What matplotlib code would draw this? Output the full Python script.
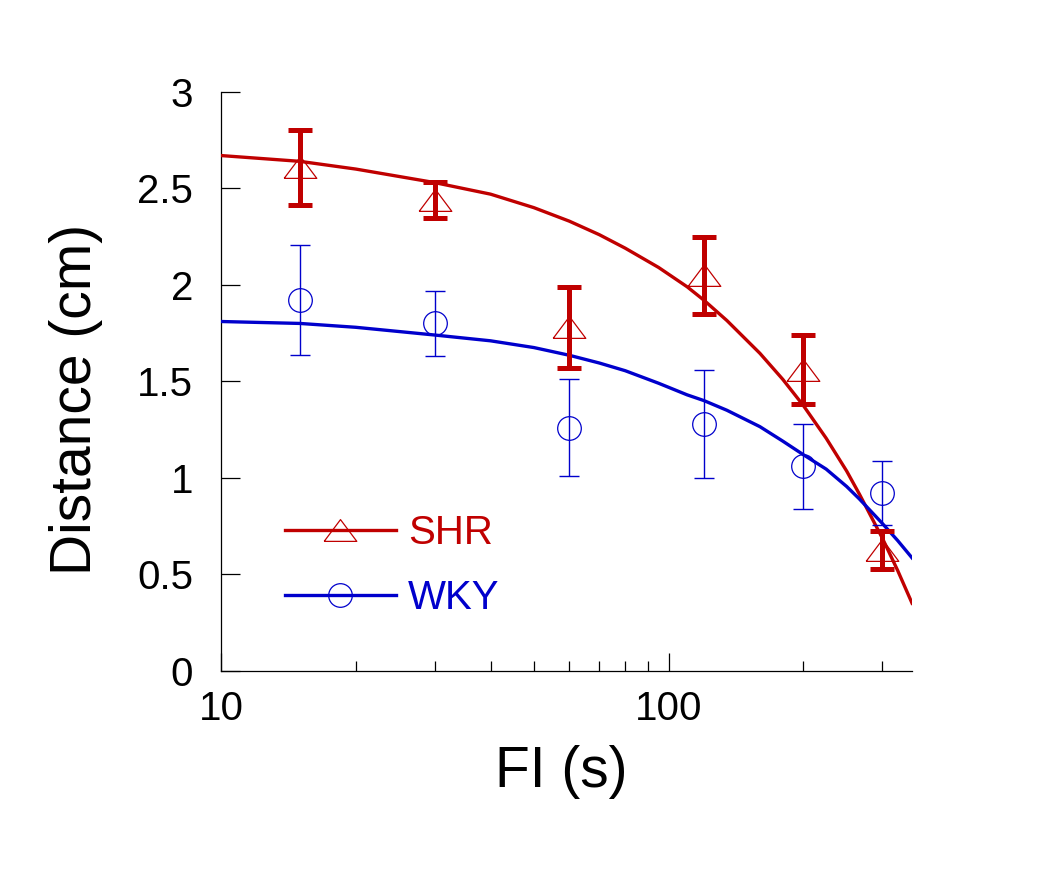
import matplotlib
matplotlib.use('Agg')
import matplotlib.pyplot as plt
from matplotlib.lines import Line2D
from matplotlib.ticker import LogLocator, FixedLocator, FixedFormatter, NullFormatter

plt.rcParams['font.family'] = ['Liberation Sans', 'DejaVu Sans']

# data points (FI in s, distance in cm)
fi = [15, 30, 60, 120, 200, 300]
shr_mean = [2.61, 2.44, 1.78, 2.05, 1.56, 0.625]
shr_err = [0.195, 0.095, 0.21, 0.20, 0.18, 0.10]
wky_mean = [1.92, 1.80, 1.26, 1.28, 1.06, 0.92]
wky_err = [0.285, 0.17, 0.25, 0.28, 0.22, 0.165]

# fitted curves
fit_x = [10, 15, 20, 30, 40, 50, 60, 70, 80, 95, 110, 120, 135, 160, 180,
         200, 225, 250, 267, 300, 325, 350]
shr_fit = [2.67, 2.64, 2.60, 2.53, 2.47, 2.40, 2.33, 2.26, 2.19, 2.09, 1.99,
           1.92, 1.815, 1.645, 1.51, 1.375, 1.205, 1.035, 0.915, 0.69, 0.52, 0.35]
wky_fit = [1.81, 1.80, 1.78, 1.74, 1.71, 1.675, 1.635, 1.595, 1.555, 1.49, 1.43,
           1.40, 1.35, 1.265, 1.19, 1.12, 1.045, 0.955, 0.89, 0.765, 0.675, 0.585]

red = '#C00000'
blue = '#0000CC'
tri = [(-1.5, -1), (1.5, -1), (0, 1), (-1.5, -1)]

fig = plt.figure(figsize=(10.63, 8.92), dpi=100)
ax = fig.add_axes([0.208, 0.248, 0.650, 0.649])

# fit lines
ax.plot(fit_x, shr_fit, color=red, lw=2.4, zorder=3)
ax.plot(fit_x, wky_fit, color=blue, lw=2.4, zorder=3)

# SHR data with thick error bars
ax.errorbar(fi, shr_mean, yerr=shr_err, fmt='none', ecolor=red,
            elinewidth=3.6, capsize=8.3, capthick=3.6, zorder=4)
ax.plot(fi, shr_mean, linestyle='none', marker=tri, markersize=23.5,
        markerfacecolor='none', markeredgecolor=red, markeredgewidth=0.9, zorder=5)

# WKY data with thin error bars
ax.errorbar(fi, wky_mean, yerr=wky_err, fmt='none', ecolor=blue,
            elinewidth=1.0, capsize=7.2, capthick=1.0, zorder=4)
ax.plot(fi, wky_mean, linestyle='none', marker='o', markersize=17,
        markerfacecolor='none', markeredgecolor=blue, markeredgewidth=0.9, zorder=5)

ax.set_xscale('log')
ax.set_xlim(10, 350)
ax.set_ylim(0, 3)

ax.xaxis.set_major_locator(FixedLocator([10, 100]))
ax.xaxis.set_major_formatter(FixedFormatter(['10', '100']))
ax.xaxis.set_minor_locator(LogLocator(base=10, subs=range(2, 10)))
ax.xaxis.set_minor_formatter(NullFormatter())
ax.set_yticks([0, 0.5, 1, 1.5, 2, 2.5, 3])
ax.set_yticklabels(['0', '0.5', '1', '1.5', '2', '2.5', '3'])

for s in ['top', 'right']:
    ax.spines[s].set_visible(False)
for s in ['left', 'bottom']:
    ax.spines[s].set_linewidth(0.9)

ax.tick_params(axis='y', which='major', direction='in', length=13.7, width=0.9,
               pad=20, labelsize=29)
ax.tick_params(axis='x', which='major', direction='in', length=13, width=0.9,
               pad=14, labelsize=29)
ax.tick_params(axis='x', which='minor', direction='in', length=7.2, width=0.9)

ax.set_xlabel('FI (s)', fontsize=41)
ax.set_ylabel('Distance (cm)', fontsize=41)
ax.xaxis.set_label_coords(0.492, -0.128)
ax.yaxis.set_label_coords(-0.171, 0.468)

handles = [
    Line2D([], [], color=red, lw=2.4, marker=tri, markersize=23.5,
           markerfacecolor='none', markeredgecolor=red, markeredgewidth=0.9),
    Line2D([], [], color=blue, lw=2.4, marker='o', markersize=17,
           markerfacecolor='none', markeredgecolor=blue, markeredgewidth=0.9),
]
ax.legend(handles, ['SHR', 'WKY'], loc='upper left', bbox_to_anchor=(0.0926, 0.27),
          frameon=False, fontsize=29, handlelength=2.75, handletextpad=0.3,
          labelspacing=0.67, borderpad=0, borderaxespad=0, numpoints=1,
          labelcolor='linecolor')

fig.savefig('out.png', dpi=100)
